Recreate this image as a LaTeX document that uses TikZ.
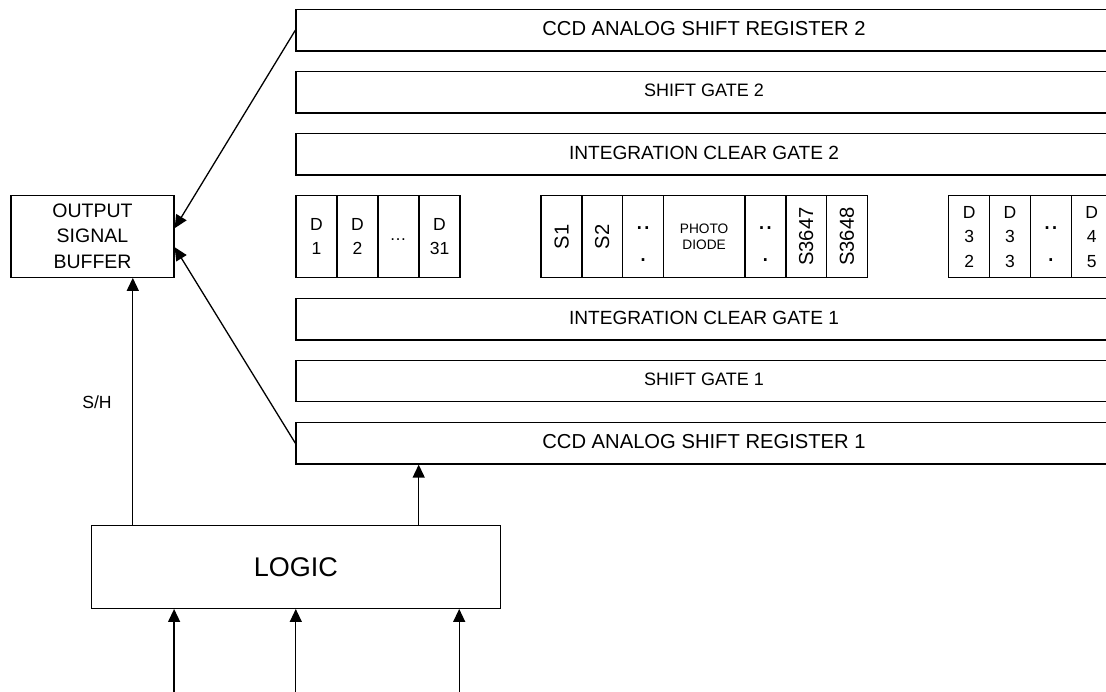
\documentclass[tikz,border=0pt]{standalone}
\usepackage{fontspec}
\setmainfont{Liberation Sans}
\usepackage{graphicx}
\usetikzlibrary{arrows.meta}
\begin{document}
\begin{tikzpicture}[x=1pt, y=-1pt, line width=1.3pt,
  >={Triangle[length=13pt,width=12pt]},
  bar/.style={draw, minimum width=816pt, minimum height=41.5pt, inner sep=0pt, text depth=3pt},
  asrfont/.style={font=\fontsize{20.2}{24}\selectfont},
  gatefont/.style={font=\fontsize{18}{22}\selectfont},
  icgfont/.style={font=\fontsize{19.1}{23}\selectfont},
  cell/.style={draw, minimum width=41pt, minimum height=82pt, inner sep=0pt},
  dfont/.style={font=\fontsize{17.5}{24.5}\selectfont, align=center},
  sfont/.style={font=\fontsize{20.2}{24}\selectfont},
  dotfont/.style={font=\fontsize{27}{30}\selectfont, anchor=base, inner sep=0pt},
  block/.style={draw, inner sep=0pt, align=center}]
\useasboundingbox (0,0) rectangle (1106,691);
\clip (0,0) rectangle (1106,691);

% horizontal register and gate bars (they run past the right edge)
\node[bar, asrfont]  (asr2) at (704,30.2)  {CCD ANALOG SHIFT REGISTER 2};
\node[bar, gatefont] (sg2)  at (704,92.2)  {SHIFT GATE 2};
\node[bar, icgfont]  (icg2) at (704,154.3) {INTEGRATION CLEAR GATE 2};
\node[bar, icgfont]  (icg1) at (704,319.3) {INTEGRATION CLEAR GATE 1};
\node[bar, gatefont] (sg1)  at (704,381)   {SHIFT GATE 1};
\node[bar, asrfont]  (asr1) at (704,443.2) {CCD ANALOG SHIFT REGISTER 1};

% dummy pixels D1 ... D31
\node[cell, dfont] (d1)  at (316.5,236.7) {D\\1};
\node[cell, dfont] (d2)  at (357.5,236.7) {D\\2};
\node[cell]        (d3)  at (398.5,236.7) {};
\node[font=\fontsize{17}{20}\selectfont, anchor=base, inner sep=0pt] (d3dots) at (398.2,240.9) {…};
\node[cell, dfont] (d31) at (439.5,236.7) {D\\31};

% active pixels S1 ... S3648
\node[cell, sfont] (s1) at (561.6,236.7) {\rotatebox{90}{S1}};
\node[cell, sfont] (s2) at (602.2,236.7) {\rotatebox{90}{S2}};
\node[cell]        (s3) at (643,236.7) {};
\node[dotfont] (s3dotsa) at (643,229.1) {..};
\node[dotfont] (s3dotsb) at (643,261.7) {.};
\node[cell, minimum width=81.7pt, font=\fontsize{13.7}{15.7}\selectfont, align=center]
      (photo) at (704.15,236.7) {PHOTO\\DIODE};
\node[cell]        (s5) at (765.35,236.7) {};
\node[dotfont] (s5dotsa) at (765.35,229.1) {..};
\node[dotfont] (s5dotsb) at (765.35,261.7) {.};
\node[cell, sfont] (s6) at (806.2,236.7) {\rotatebox{90}{S3647}};
\node[cell, sfont] (s7) at (847,236.7)   {\rotatebox{90}{S3648}};

% dummy pixels D32 ... D45
\node[cell, dfont] (d32) at (969.2,236.7)  {D\\3\\2};
\node[cell, dfont] (d33) at (1010,236.7)   {D\\3\\3};
\node[cell]        (d34) at (1050.8,236.7) {};
\node[dotfont] (d34dotsa) at (1050.8,229.1) {..};
\node[dotfont] (d34dotsb) at (1050.8,261.7) {.};
\node[cell, dfont] (d45) at (1091.7,236.7) {D\\4\\5};

% output buffer and timing logic
\node[block, minimum width=163pt, minimum height=82pt, font=\fontsize{19.5}{25.5}\selectfont]
      (obuf) at (92.5,236.2) {OUTPUT\\SIGNAL\\BUFFER};
\node[block, minimum width=408.5pt, minimum height=82.6pt, font=\fontsize{27}{32}\selectfont]
      (logic) at (295.95,567) {LOGIC};
\node[font=\fontsize{17.6}{21}\selectfont] (sh) at (97,402) {S/H};

% signal paths
\draw[->] (asr2.west) -- ([yshift=8pt]obuf.east);
\draw[->] (asr1.west) -- ([yshift=-11pt]obuf.east);
\draw[->] (132.8,0 |- logic.north) -- (132.8,0 |- obuf.south);
\draw[->] (418.7,0 |- logic.north) -- (418.7,0 |- asr1.south);

% logic inputs
\coordinate (in1) at (174.1,700);
\coordinate (in2) at (295.8,700);
\coordinate (in3) at (459.2,700);
\draw[->] (in1) -- (in1 |- logic.south);
\draw[->] (in2) -- (in2 |- logic.south);
\draw[->] (in3) -- (in3 |- logic.south);
\end{tikzpicture}
\end{document}
